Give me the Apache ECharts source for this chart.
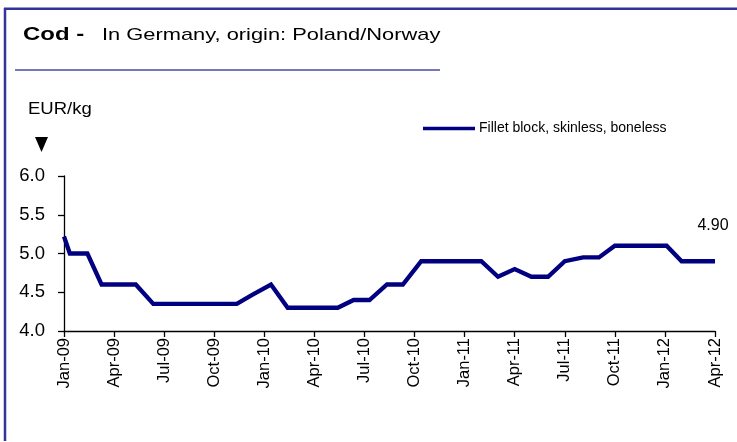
<!DOCTYPE html>
<html>
<head>
<meta charset="utf-8">
<title>Cod - In Germany</title>
<script src="https://cdn.jsdelivr.net/npm/echarts@6/dist/echarts.min.js"></script>
<style>
	html, body { margin: 0; padding: 0; background: #fff; }
	#chart { width: 737px; height: 442px; }
</style>
</head>
<body>
<div id="chart"></div>
<script>
/**********************************************/
/* data */
/**********************************************/
// quarter tick labels (one every 3 months, Jan-09 = month 0)
let TICK_LABELS = ["Jan-09","Apr-09","Jul-09","Oct-09","Jan-10","Apr-10","Jul-10",
	"Oct-10","Jan-11","Apr-11","Jul-11","Oct-11","Jan-12","Apr-12"];

// observation dates, in months after 1 Jan 2009
let MONTHS = [0, 0.35, 1.4, 2.25, 3.3, 4.3, 5.35, 6.35, 7.35, 8.35, 9.35, 10.35,
	11.3, 12.4, 13.4, 14.4, 15.4, 16.4, 17.35, 18.3, 19.35, 20.3, 21.4, 22.3, 23.2,
	24.1, 25.0, 26.0, 27.0, 28.0, 29.0, 30.0, 31.1, 32.05, 33.0, 34.0, 35.0, 36.1,
	37.0, 38.0, 39.0];

// Fillet block, skinless, boneless - EUR/kg
let PRICES = [5.22, 5.0, 5.0, 4.6, 4.6, 4.6, 4.35, 4.35, 4.35, 4.35, 4.35, 4.35,
	4.47, 4.6, 4.3, 4.3, 4.3, 4.3, 4.4, 4.4, 4.6, 4.6, 4.9, 4.9, 4.9,
	4.9, 4.9, 4.7, 4.8, 4.7, 4.7, 4.9, 4.95, 4.95, 5.1, 5.1, 5.1, 5.1,
	4.9, 4.9, 4.9];

let SERIES_NAME = "Fillet block, skinless, boneless";

let FONT = "Arial, 'Liberation Sans', sans-serif";
let FRAME = "#333399";

/**********************************************/
/* build */
/**********************************************/
// series points, the last one carries the "4.90" label
function getSeriesData() {
	let arr = [];
	for (let i = 0; i < MONTHS.length; i++) {
		arr.push([MONTHS[i], PRICES[i]]);
	}
	let last = arr.length - 1;
	arr[last] = {
		value: arr[last],
		symbol: "circle",
		symbolSize: 0.1,
		label: {
			show: true,
			position: "top",
			distance: 28,
			offset: [-2, 0],
			fontFamily: FONT,
			fontSize: 16,
			color: "#000",
			formatter: function (p) { return p.value[1].toFixed(2); }
		}
	};
	return arr;
}

let chart = echarts.init(document.getElementById("chart"), null, { renderer: "canvas" });

chart.setOption({
	animation: false,
	backgroundColor: "#fff",
	textStyle: { fontFamily: FONT },
	graphic: [
		// frame: top and left border
		{ type: "line", shape: { x1: 4, y1: 8.7, x2: 737, y2: 8.7 }, style: { stroke: FRAME, lineWidth: 2.5 } },
		{ type: "line", shape: { x1: 5, y1: 8, x2: 5, y2: 441 }, style: { stroke: FRAME, lineWidth: 2.5 } },
		// rule under the title
		{ type: "line", shape: { x1: 15, y1: 70, x2: 440, y2: 70 }, style: { stroke: "#4a4aa8", lineWidth: 1.5 } },
		// title
		{ type: "text", x: 23, y: 35, scaleX: 1.33,
			style: { text: "Cod -", font: "bold 18px " + FONT, fill: "#000", textVerticalAlign: "middle" } },
		{ type: "text", x: 102, y: 35.3, scaleX: 1.285,
			style: { text: "In Germany, origin: Poland/Norway", font: "17px " + FONT, fill: "#000", textVerticalAlign: "middle" } },
		// unit and arrow
		{ type: "text", x: 28, y: 109.5, scaleX: 1.09,
			style: { text: "EUR/kg", font: "17px " + FONT, fill: "#000", textVerticalAlign: "middle" } },
		{ type: "polygon", shape: { points: [[35, 137], [48, 137], [41.5, 152]] }, style: { fill: "#000" } }
	],
	legend: {
		data: [SERIES_NAME],
		left: 423,
		top: 121.5,
		padding: 0,
		icon: "rect",
		itemWidth: 52,
		itemHeight: 3.5,
		itemGap: 4,
		textStyle: { fontFamily: FONT, fontSize: 14, color: "#000", padding: [0, 0, 0, -1] }
	},
	grid: {
		left: 64,
		right: 22,
		top: 176,
		bottom: 111,
		outerBoundsMode: "none"
	},
	xAxis: {
		type: "value",
		min: 0,
		max: 39,
		interval: 3,
		axisLine: { show: true, onZero: false, lineStyle: { color: "#000", width: 1.3 } },
		axisTick: { show: true, length: 6, lineStyle: { color: "#000", width: 1.3 } },
		splitLine: { show: false },
		axisLabel: {
			rotate: 90,
			margin: 7,
			fontFamily: FONT,
			fontSize: 16.5,
			color: "#000",
			formatter: function (v) { return TICK_LABELS[Math.round(v / 3)]; }
		}
	},
	yAxis: {
		type: "value",
		min: 4,
		max: 6,
		interval: 0.5,
		axisLine: { show: true, lineStyle: { color: "#000", width: 1.3 } },
		axisTick: { show: true, length: 6, lineStyle: { color: "#000", width: 1.3 } },
		splitLine: { show: false },
		axisLabel: {
			margin: 19,
			fontFamily: FONT,
			fontSize: 18.5,
			color: "#000",
			formatter: function (v) { return v.toFixed(1); }
		}
	},
	series: [
		{
			name: SERIES_NAME,
			type: "line",
			symbol: "none",
			data: getSeriesData(),
			color: "#000080",
			lineStyle: { color: "#000080", width: 4.3, join: "miter" }
		}
	]
});
</script>
</body>
</html>
